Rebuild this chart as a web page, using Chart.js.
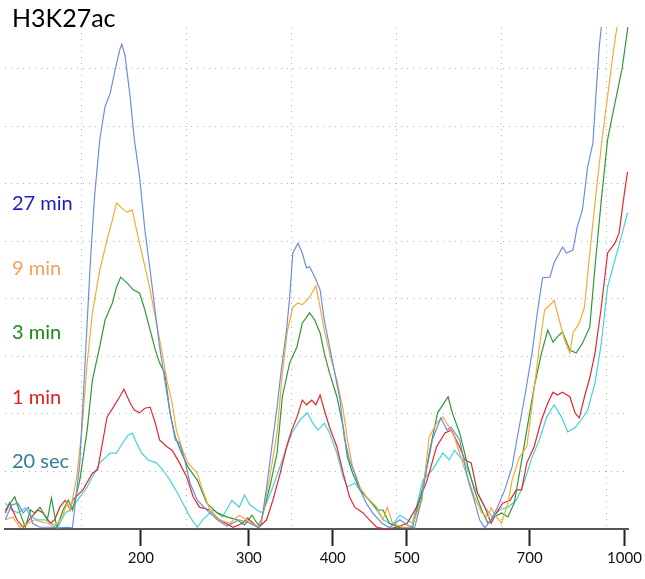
<!DOCTYPE html>
<html>
<head>
<meta charset="utf-8">
<title>H3K27ac</title>
<script src="https://cdn.jsdelivr.net/npm/chart.js@4.4.1/dist/chart.umd.min.js"></script>
<style>
  html, body { margin: 0; padding: 0; background: #fff; }
  canvas { display: block; }
</style>
</head>
<body>
<canvas id="chart" width="645" height="579"></canvas>
<script>
// migration time (s) vs fluorescence, one [time, value] list per sample
const chartTitle = "H3K27ac";
const seriesNames = ["27 min", "9 min", "3 min", "1 min", "20 sec"];

const min27 = [[12.7,1.6],[13.3,4.2],[13.9,4.5],[14.4,2.8],[14.9,3.8],[15.3,1.0],[16.0,0.3],[17.0,0.3],[17.7,0.2],[18.6,0.3],[19.1,0.2],[19.8,11.5],[20.3,28.9],[20.8,46.3],[21.2,57.7],[21.7,67.7],[22.2,73.4],[22.7,75.8],[23.1,79.3],[23.6,83.3],[23.8,84.3],[24.1,82.4],[24.6,75.1],[25.0,67.7],[25.5,61.2],[26.0,52.0],[26.5,45.0],[27.0,37.6],[27.4,31.7],[27.9,25.9],[28.4,20.2],[28.9,15.5],[29.3,15.0],[29.8,12.0],[30.3,8.0],[31.0,5.0],[31.9,3.3],[32.9,1.6],[33.8,0.5],[35.0,1.6],[36.0,1.0],[36.8,0.3],[37.1,1.0],[37.6,7.3],[38.1,14.3],[38.6,21.2],[39.0,27.7],[39.5,34.6],[39.8,40.3],[40.1,48.0],[40.6,49.7],[41.0,48.0],[41.4,45.4],[41.7,45.6],[42.2,43.8],[42.7,41.6],[43.1,36.3],[43.6,31.7],[44.1,27.1],[44.6,22.4],[45.0,16.0],[45.5,12.0],[46.0,9.7],[46.5,6.8],[47.1,4.5],[47.7,2.8],[48.6,1.0],[49.3,0.2],[50.3,1.6],[51.0,0.7],[51.7,0.2],[52.2,3.8],[52.9,10.8],[53.4,15.5],[54.2,19.3],[54.8,17.2],[55.2,17.7],[56.0,15.5],[56.8,8.5],[57.4,5.0],[57.9,1.6],[58.4,0.2],[59.0,1.6],[59.6,3.8],[60.3,6.8],[61.0,10.8],[61.5,16.0],[62.2,23.0],[62.9,30.6],[63.4,37.6],[63.9,43.7],[64.6,43.8],[65.0,46.3],[65.8,49.0],[66.2,48.0],[66.8,48.5],[67.2,52.5],[67.7,55.5],[68.2,63.0],[68.7,67.1],[69.0,75.8],[69.3,83.8],[69.5,87.3],[69.7,92.0]];

const min9 = [[12.7,1.6],[13.4,2.1],[14.1,0.3],[14.9,1.0],[15.5,1.6],[16.2,1.2],[16.8,1.0],[17.4,0.3],[18.1,2.1],[18.6,4.5],[18.9,3.3],[19.5,9.0],[20.0,17.2],[20.5,28.9],[21.0,37.6],[21.7,45.0],[22.4,50.3],[22.9,53.7],[23.3,56.7],[23.8,55.8],[24.3,55.1],[24.8,55.5],[25.2,52.0],[25.8,47.3],[26.5,41.6],[27.1,35.8],[27.6,31.1],[28.1,25.9],[28.6,21.9],[29.0,17.2],[29.6,13.7],[30.1,11.5],[31.0,9.7],[31.5,6.8],[32.2,3.3],[33.1,1.6],[34.1,1.0],[35.0,2.4],[36.0,1.2],[36.8,0.3],[37.2,2.1],[37.9,9.0],[38.6,16.7],[39.1,27.1],[39.6,34.6],[40.1,38.6],[40.6,39.3],[41.0,39.0],[41.7,40.3],[42.3,42.3],[42.7,38.6],[43.1,34.6],[43.6,30.6],[44.3,25.9],[44.9,20.7],[45.3,15.5],[45.8,10.8],[46.5,7.3],[47.1,5.6],[48.1,3.8],[48.7,1.6],[49.1,3.8],[49.6,1.0],[50.6,0.3],[51.4,0.3],[52.4,5.0],[53.1,16.0],[53.8,18.4],[54.4,19.5],[55.0,17.7],[55.5,16.0],[56.5,10.3],[57.4,5.6],[58.1,2.8],[58.7,2.1],[59.0,3.7],[59.5,2.1],[60.0,1.0],[60.6,4.5],[61.0,8.5],[61.7,12.5],[62.4,14.3],[63.0,23.0],[63.6,31.7],[64.1,38.1],[64.8,39.3],[65.0,39.8],[65.5,36.3],[66.0,32.9],[66.5,30.6],[66.8,34.1],[67.4,35.8],[67.9,38.6],[68.4,48.0],[69.0,58.4],[69.6,68.2],[70.3,78.1],[70.8,85.0],[71.0,87.3],[71.2,92.0]];

const min3 = [[12.7,3.3],[13.6,5.6],[14.1,2.8],[14.6,0.3],[15.1,3.3],[15.5,2.8],[16.0,3.8],[16.7,1.6],[17.1,5.4],[17.6,0.3],[18.2,3.3],[18.7,5.0],[19.1,3.3],[19.8,8.5],[20.5,17.2],[21.0,25.9],[21.7,31.7],[22.2,36.3],[22.9,39.3],[23.3,42.1],[23.7,43.8],[24.3,42.8],[24.9,41.6],[25.5,41.0],[26.0,38.1],[26.5,34.6],[27.0,31.1],[27.4,28.9],[27.9,27.1],[28.4,20.2],[28.9,16.0],[29.5,13.2],[30.1,10.8],[31.0,8.5],[31.9,4.5],[32.9,2.8],[33.8,2.1],[34.8,1.6],[35.5,0.7],[36.2,2.4],[36.8,0.7],[37.1,1.6],[37.9,7.3],[38.6,13.2],[39.1,23.0],[39.8,28.9],[40.5,31.7],[41.0,35.8],[41.7,37.6],[42.2,36.3],[42.7,34.1],[43.1,30.6],[43.6,27.1],[44.3,23.0],[44.9,17.7],[45.3,12.5],[45.8,9.7],[46.5,6.8],[47.4,5.0],[48.2,3.3],[48.7,3.3],[49.3,1.0],[50.3,0.2],[51.5,0.3],[52.5,7.3],[53.1,13.2],[53.9,20.2],[54.9,23.0],[55.3,20.2],[56.0,16.7],[56.8,10.8],[57.4,6.8],[58.1,3.3],[58.7,1.0],[59.3,2.1],[60.0,2.8],[60.6,2.1],[61.2,4.5],[61.7,9.7],[62.4,17.2],[63.1,24.7],[63.8,30.6],[64.4,34.6],[64.9,32.5],[65.3,33.4],[65.8,34.3],[66.5,31.1],[67.1,30.6],[67.7,32.3],[68.4,35.1],[68.9,45.6],[69.5,57.2],[70.1,67.7],[70.6,72.3],[71.0,75.8],[71.5,80.3],[72.0,86.8],[72.2,90.0]];

const min1 = [[12.7,2.8],[13.1,4.5],[13.8,1.6],[14.4,0.3],[15.2,2.1],[15.8,3.3],[16.3,2.8],[17.0,1.0],[17.4,1.6],[17.9,3.8],[18.4,5.0],[18.9,3.3],[19.1,5.0],[20.1,6.8],[21.0,9.7],[21.5,10.3],[22.4,19.5],[23.0,21.2],[23.6,23.0],[24.0,24.3],[24.6,21.9],[25.0,20.7],[25.5,20.2],[26.0,21.0],[26.5,21.2],[27.0,18.4],[27.4,15.5],[28.1,14.3],[28.6,13.7],[29.3,11.5],[30.0,9.0],[30.6,5.6],[31.2,3.8],[32.2,3.3],[33.1,1.6],[34.4,0.3],[35.3,1.0],[35.8,1.9],[36.8,0.2],[37.6,1.6],[38.2,5.0],[38.9,9.7],[39.5,14.3],[40.0,17.2],[40.5,19.5],[41.0,22.4],[41.4,21.6],[41.9,22.4],[42.3,21.6],[42.7,23.3],[43.1,20.7],[43.6,17.7],[44.3,14.3],[44.9,9.7],[45.5,5.6],[46.0,3.8],[46.8,2.8],[47.4,1.6],[48.1,0.3],[49.0,0.0],[50.0,0.3],[51.0,1.0],[51.9,3.8],[52.9,8.5],[53.8,14.3],[54.6,16.7],[55.2,17.2],[56.0,14.3],[56.5,12.0],[57.1,11.5],[57.7,6.3],[58.4,3.8],[59.0,1.0],[59.5,2.8],[60.1,4.5],[60.8,5.0],[61.4,6.8],[61.9,6.8],[62.4,11.5],[63.1,14.3],[63.8,19.0],[64.4,21.9],[64.9,23.8],[65.3,23.3],[65.8,23.8],[66.5,23.0],[67.0,20.2],[67.4,19.3],[67.9,23.0],[68.4,26.3],[68.9,30.6],[69.5,38.6],[70.1,48.0],[70.8,49.7],[71.2,51.5],[71.7,58.4],[72.0,62.1]];

const sec20 = [[12.7,4.5],[13.3,3.3],[13.9,2.8],[14.6,3.7],[15.2,2.1],[15.8,1.6],[16.5,1.6],[17.1,1.0],[17.7,0.3],[18.4,2.8],[18.9,3.3],[19.1,3.8],[20.5,7.3],[21.7,11.5],[22.7,13.2],[23.3,13.2],[23.9,15.0],[24.4,16.3],[24.8,16.7],[25.2,15.0],[25.7,13.2],[26.3,12.0],[27.1,11.5],[27.7,10.3],[28.4,8.5],[29.3,5.6],[30.3,2.1],[31.0,0.3],[31.5,1.6],[32.5,3.3],[33.4,2.1],[34.3,5.0],[35.0,3.8],[35.5,5.9],[36.0,4.2],[36.7,3.3],[37.2,2.8],[38.2,7.3],[39.1,12.0],[40.0,16.7],[40.8,19.0],[41.5,20.2],[42.0,18.4],[42.5,17.2],[43.1,18.4],[43.6,16.7],[44.3,13.2],[44.9,9.0],[45.3,7.3],[46.0,8.0],[46.7,6.3],[47.4,5.0],[48.1,3.3],[48.7,1.6],[49.6,0.7],[50.3,2.4],[51.0,1.6],[51.5,1.0],[52.5,8.5],[53.4,10.3],[54.4,13.2],[55.0,12.0],[55.5,13.7],[56.5,11.5],[57.4,7.3],[58.4,3.8],[59.1,2.1],[59.8,3.3],[60.6,3.8],[61.4,5.0],[62.0,7.3],[62.9,12.5],[63.6,15.5],[64.3,19.5],[65.0,21.6],[65.7,19.5],[66.3,16.9],[67.0,17.6],[67.6,19.0],[68.2,20.7],[68.9,25.4],[69.5,32.3],[70.1,42.1],[70.8,46.8],[71.4,50.8],[72.0,55.0]];

// ladder sizes (bp) and where they ran
const ladderTimes = [25.62, 35.9, 43.9, 50.95, 62.67, 71.71];
const ladderLabels = ["200", "300", "400", "500", "700", "1000"];
const gridTimes = [20, 30, 40, 50, 60, 70];
const gridValues = [10, 20, 30, 40, 50, 60, 70, 80];

const lineColors = ["#6b8ee0", "#f7aa3c", "#2e9a34", "#e8262e", "#45d2d6"];
const labelColors = ["#1c1cc4", "#f0a45a", "#1a8a1a", "#e41c1c", "#2e7f98"];

const allSeries = [min27, min9, min3, min1, sec20];

const datasets = allSeries.map((pts, i) => ({
  label: seriesNames[i],
  data: pts.map(p => ({ x: p[0], y: p[1] })),
  borderColor: lineColors[i],
  borderWidth: 1.2,
  pointRadius: 0,
  tension: 0,
  fill: false,
  order: i
}));

const dotted = { color: "#b0b0b0", lineWidth: 1 };

const sideLabels = {
  id: "sideLabels",
  afterDraw(chart) {
    const ctx = chart.ctx;
    ctx.save();
    ctx.textAlign = "left";
    ctx.textBaseline = "alphabetic";
    ctx.fillStyle = "#000";
    ctx.font = "25px Lato";
    ctx.fillText(chartTitle, 12, 27);
    ctx.font = "20px Lato";
    seriesNames.forEach((name, i) => {
      ctx.fillStyle = labelColors[i];
      ctx.fillText(name, 12, 210 + i * 64.5);
    });
    ctx.restore();
  }
};

Chart.defaults.font.family = "Lato";

new Chart(document.getElementById("chart"), {
  type: "line",
  data: { datasets },
  plugins: [sideLabels],
  options: {
    responsive: false,
    animation: false,
    devicePixelRatio: 1,
    layout: { padding: { left: 5, right: 16, top: 27, bottom: 9 } },
    plugins: {
      legend: { display: false },
      tooltip: { enabled: false }
    },
    scales: {
      x: {
        type: "linear",
        position: "bottom",
        min: 12.67,
        max: 72.1,
        afterBuildTicks: (scale) => {
          scale.ticks = ladderTimes.map(v => ({ value: v }));
        },
        ticks: {
          autoSkip: false,
          maxRotation: 0,
          padding: 3,
          color: "#111",
          font: { size: 15 },
          callback: (value, index) => ladderLabels[index]
        },
        grid: {
          drawOnChartArea: false,
          drawTicks: true,
          tickLength: 17,
          tickWidth: 2,
          tickColor: "#222"
        },
        border: { display: true, color: "#555", width: 2 }
      },
      xg: {
        type: "linear",
        position: "top",
        min: 12.67,
        max: 72.1,
        afterBuildTicks: (scale) => {
          scale.ticks = gridTimes.map(v => ({ value: v }));
        },
        ticks: { display: false },
        grid: { ...dotted, drawTicks: false },
        border: { display: false, dash: [1, 5] }
      },
      y: {
        min: 0,
        max: 87.3,
        afterBuildTicks: (scale) => {
          scale.ticks = gridValues.map(v => ({ value: v }));
        },
        ticks: { display: false },
        grid: { ...dotted, drawTicks: false },
        border: { display: false, dash: [1, 5] }
      }
    }
  }
});
</script>
</body>
</html>
